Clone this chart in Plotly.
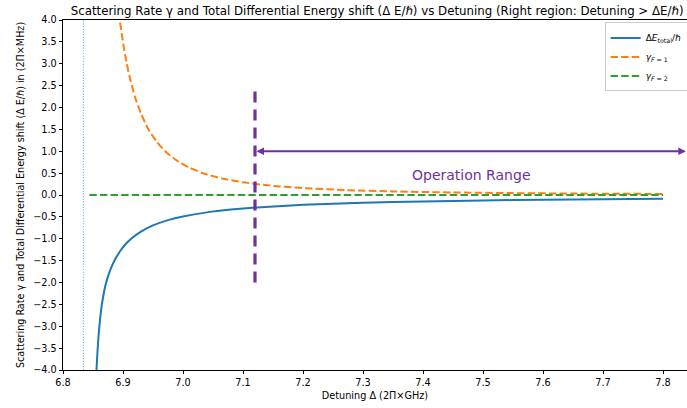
import plotly.graph_objects as go

# Detuning grid (2π×GHz) and the quantities evaluated on it
detuning_total = [6.8540, 6.8558, 6.8575, 6.8595, 6.8615, 6.8640, 6.8670, 6.8700,
                  6.8750, 6.8800, 6.8870, 6.8950, 6.9050, 6.9150, 6.9300, 6.9500,
                  6.9750, 7.0000, 7.0400, 7.0800, 7.1300, 7.2000, 7.3000, 7.4000,
                  7.5000, 7.6000, 7.7000, 7.8000]
delta_e_total = [-4.60, -4.00, -3.57, -3.18, -2.88, -2.58, -2.32, -2.11,
                 -1.86, -1.67, -1.47, -1.285, -1.114, -0.982, -0.835, -0.695,
                 -0.575, -0.491, -0.397, -0.334, -0.278, -0.225, -0.177, -0.146,
                 -0.124, -0.108, -0.096, -0.086]

detuning_f1 = [6.893, 6.895, 6.900, 6.906, 6.913, 6.920, 6.930, 6.942, 6.956,
               6.972, 6.990, 7.010, 7.035, 7.065, 7.100, 7.150, 7.200, 7.270,
               7.350, 7.450, 7.550, 7.650, 7.800]
gamma_f1 = [4.18, 3.96, 3.49, 3.02, 2.59, 2.24, 1.86, 1.51, 1.22,
            0.979, 0.784, 0.628, 0.491, 0.379, 0.290, 0.209, 0.158, 0.113,
            0.0814, 0.0576, 0.0429, 0.0332, 0.0238]

detuning_f2 = [6.844, 7.000, 7.200, 7.400, 7.600, 7.800]
gamma_f2 = [0.0, 0.0, 0.0, 0.0, 0.0, 0.0]

# Resonance position and start of the operating window
resonance_detuning = 6.834
operation_start = 7.12
operation_arrow_level = 1.0
operation_line_span = [-2.0, 2.5]
operation_label_pos = [7.481, 0.46]

x_limits = [6.8, 7.84]
y_limits = [-4.0, 4.0]
x_ticks = [6.8, 6.9, 7.0, 7.1, 7.2, 7.3, 7.4, 7.5, 7.6, 7.7, 7.8]
y_ticks = [-4.0, -3.5, -3.0, -2.5, -2.0, -1.5, -1.0, -0.5, 0.0,
           0.5, 1.0, 1.5, 2.0, 2.5, 3.0, 3.5, 4.0]

PURPLE = "#7030A0"
FONT = "DejaVu Sans"

fig = go.Figure()

# Resonance marker
fig.add_trace(go.Scatter(
    x=[resonance_detuning, resonance_detuning], y=y_limits, mode="lines",
    line=dict(color="#5b9bd5", width=1, dash="1px,1.7px"),
    showlegend=False, hoverinfo="skip"))

fig.add_trace(go.Scatter(
    x=detuning_total, y=delta_e_total, mode="lines",
    name="Δ<i>E</i><sub>total</sub>/ℏ",
    line=dict(color="#1f77b4", width=2, shape="spline", smoothing=0.5)))

fig.add_trace(go.Scatter(
    x=detuning_f1, y=gamma_f1, mode="lines",
    name="<i>γ</i><sub><i>F</i> = 1</sub>",
    line=dict(color="#ff7f0e", width=2, dash="7.4px,3.2px", shape="spline", smoothing=0.5)))

fig.add_trace(go.Scatter(
    x=detuning_f2, y=gamma_f2, mode="lines",
    name="<i>γ</i><sub><i>F</i> = 2</sub>",
    line=dict(color="#2ca02c", width=2, dash="7.4px,3.2px")))

# Start of the operating window
fig.add_trace(go.Scatter(
    x=[operation_start, operation_start], y=operation_line_span, mode="lines",
    line=dict(color=PURPLE, width=3.2, dash="11px,7px"),
    showlegend=False, hoverinfo="skip"))

# Double-headed arrow spanning the operating window
fig.add_annotation(
    x=x_limits[1] - 0.002, y=operation_arrow_level,
    ax=operation_start, ay=operation_arrow_level,
    xref="x", yref="y", axref="x", ayref="y",
    text="", showarrow=True, arrowhead=2, startarrowhead=2,
    arrowside="end+start", arrowsize=0.75, startarrowsize=0.75,
    arrowwidth=2, arrowcolor=PURPLE, standoff=0, startstandoff=0)

fig.add_annotation(
    x=operation_label_pos[0], y=operation_label_pos[1], xref="x", yref="y",
    text="Operation Range", showarrow=False,
    font=dict(family=FONT, size=14, color=PURPLE))

axis_common = dict(
    showgrid=False, zeroline=False, showline=True, linecolor="black", linewidth=0.8,
    ticks="outside", ticklen=3.5, tickwidth=0.8, tickcolor="black",
    tickfont=dict(family=FONT, size=9.7, color="black"), tickformat=".1f",
    automargin=False)

fig.update_xaxes(range=x_limits, tickvals=x_ticks, mirror=True,
                 title=dict(text="Detuning Δ (2Π×GHz)", standoff=5,
                            font=dict(family=FONT, size=9.7, color="black")),
                 **axis_common)
fig.update_yaxes(range=y_limits, tickvals=y_ticks, mirror=False,
                 title=dict(text="Scattering Rate γ and Total Differential Energy shift (Δ E/ℏ) in (2Π×MHz)",
                            standoff=6, font=dict(family=FONT, size=9.6, color="black")),
                 **axis_common)

fig.update_layout(
    width=687, height=408,
    margin=dict(l=63, r=0, t=20, b=38, autoexpand=False),
    plot_bgcolor="white", paper_bgcolor="white",
    title=dict(text="Scattering Rate γ and Total Differential Energy shift (Δ E/ℏ) vs Detuning (Right region: Detuning > ΔE/ℏ)",
               x=0.549, xanchor="center", y=0.973, yanchor="middle",
               font=dict(family=FONT, size=11.8, color="black")),
    legend=dict(x=0.868, y=0.993, xanchor="left", yanchor="top",
                bgcolor="rgba(255,255,255,0.8)", bordercolor="#cccccc", borderwidth=1,
                font=dict(family=FONT, size=9, color="black"),
                itemwidth=30, tracegroupgap=0),
    font=dict(family=FONT),
)

fig.write_html("out.html")
